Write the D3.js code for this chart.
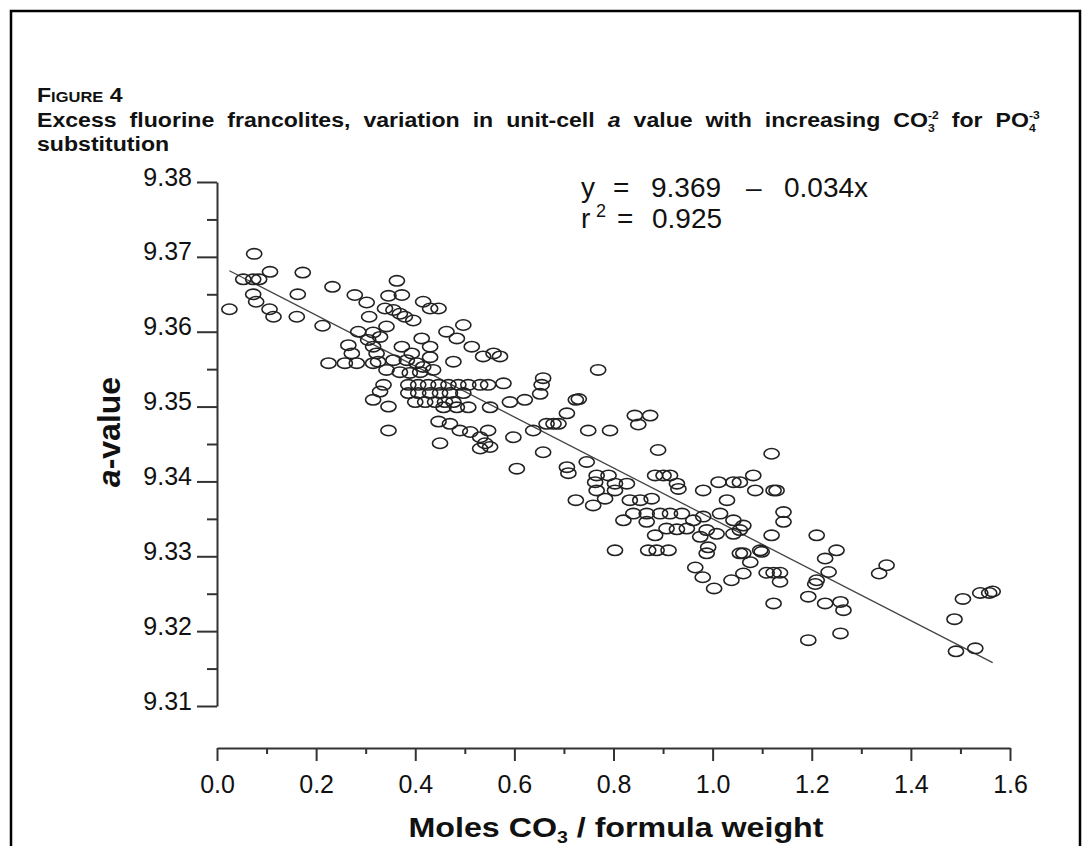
<!DOCTYPE html>
<html>
<head>
<meta charset="utf-8">
<script src="https://cdn.jsdelivr.net/npm/d3@7/dist/d3.min.js"></script>
<style>
body { margin: 0; background: #fff; }
svg text { font-family: "Liberation Sans", Arial, sans-serif; }
</style>
</head>
<body>
<script>
// ---- data (moles CO3 per formula weight vs unit-cell a) ----
var molesCO3 = [
  0.075, 0.107, 0.173, 0.053, 0.073, 0.085, 0.073, 0.079, 0.025, 0.106,
  0.114, 0.163, 0.161, 0.233, 0.213, 0.278, 0.302, 0.307, 0.363, 0.346,
  0.373, 0.339, 0.356, 0.369, 0.379, 0.396, 0.416, 0.430, 0.447, 0.463,
  0.484, 0.497, 0.285, 0.315, 0.329, 0.342, 0.305, 0.315, 0.322, 0.325,
  0.265, 0.272, 0.225, 0.258, 0.282, 0.315, 0.342, 0.373, 0.393, 0.413,
  0.430, 0.430, 0.356, 0.383, 0.403, 0.416, 0.436, 0.369, 0.389, 0.410,
  0.336, 0.329, 0.315, 0.346, 0.346,
  0.386, 0.406, 0.426, 0.447, 0.467, 0.487, 0.507, 0.531, 0.547,
  0.386, 0.406, 0.430, 0.450, 0.470, 0.497,
  0.400, 0.420, 0.440, 0.460, 0.477,
  0.457, 0.484, 0.507, 0.551,
  0.578, 0.591, 0.621, 0.655, 0.658, 0.652,
  0.447, 0.470, 0.490, 0.511, 0.531, 0.547, 0.541, 0.531, 0.551, 0.450,
  0.598, 0.638, 0.658, 0.605,
  0.514, 0.537, 0.571, 0.477, 0.558,
  0.665, 0.679, 0.689, 0.706, 0.724, 0.730, 0.769,
  0.706, 0.709, 0.746, 0.749, 0.793, 0.724, 0.759,
  0.766, 0.763, 0.766, 0.783, 0.790, 0.803, 0.803, 0.827,
  0.833, 0.854, 0.877, 0.843, 0.874, 0.850, 0.890,
  0.884, 0.901, 0.914, 0.928, 0.931,
  0.820, 0.840, 0.867, 0.867, 0.894, 0.914, 0.938, 0.907, 0.928, 0.948,
  0.884, 0.803, 0.870, 0.887, 0.911,
  0.961, 0.981, 0.988, 1.015, 1.042, 1.055, 1.042, 1.008, 0.975,
  0.991, 0.988, 1.055, 1.096,
  0.981, 1.012, 1.042, 1.029, 1.055, 1.082,
  1.086, 1.123, 1.129, 1.119, 1.143, 1.143, 1.119, 1.062,
  1.210, 1.099, 1.076, 1.062,
  1.062, 1.109, 1.123, 1.136, 1.136, 1.123,
  1.250, 1.227, 1.234, 1.210, 1.207, 1.193,
  1.227, 1.258, 1.264, 1.193, 1.258,
  1.351, 1.336, 1.505, 1.540, 1.558, 1.565,
  1.488, 1.491, 1.530,
  0.965, 0.980, 1.003, 1.038
];
var aValue = [
  9.3704, 9.3680, 9.3679, 9.3670, 9.3670, 9.3670, 9.3650, 9.3640, 9.3630, 9.3630,
  9.3620, 9.3650, 9.3620, 9.3660, 9.3608, 9.3649, 9.3639, 9.3620, 9.3668, 9.3648,
  9.3649, 9.3631, 9.3629, 9.3624, 9.3620, 9.3615, 9.3640, 9.3631, 9.3631, 9.3600,
  9.3591, 9.3609, 9.3600, 9.3599, 9.3593, 9.3607, 9.3589, 9.3580, 9.3571, 9.3560,
  9.3582, 9.3571, 9.3558, 9.3558, 9.3558, 9.3558, 9.3549, 9.3580, 9.3571, 9.3591,
  9.3580, 9.3566, 9.3562, 9.3562, 9.3558, 9.3553, 9.3549, 9.3546, 9.3545, 9.3546,
  9.3529, 9.3520, 9.3509, 9.3500, 9.3468,
  9.3529, 9.3529, 9.3529, 9.3529, 9.3529, 9.3529, 9.3529, 9.3529, 9.3529,
  9.3518, 9.3518, 9.3518, 9.3518, 9.3518, 9.3518,
  9.3506, 9.3506, 9.3506, 9.3506, 9.3506,
  9.3499, 9.3499, 9.3499, 9.3499,
  9.3531, 9.3506, 9.3509, 9.3529, 9.3538, 9.3517,
  9.3480, 9.3477, 9.3468, 9.3466, 9.3459, 9.3468, 9.3451, 9.3444, 9.3446, 9.3451,
  9.3459, 9.3468, 9.3439, 9.3417,
  9.3580, 9.3567, 9.3567, 9.3560, 9.3571,
  9.3477, 9.3477, 9.3477, 9.3491, 9.3509, 9.3510, 9.3549,
  9.3419, 9.3411, 9.3426, 9.3468, 9.3468, 9.3375, 9.3368,
  9.3408, 9.3399, 9.3388, 9.3377, 9.3408, 9.3397, 9.3388, 9.3397,
  9.3375, 9.3375, 9.3377, 9.3488, 9.3488, 9.3476, 9.3442,
  9.3408, 9.3408, 9.3408, 9.3397, 9.3390,
  9.3348, 9.3357, 9.3357, 9.3346, 9.3357, 9.3357, 9.3357, 9.3337, 9.3336, 9.3337,
  9.3328, 9.3308, 9.3308, 9.3308, 9.3308,
  9.3348, 9.3353, 9.3335, 9.3357, 9.3348, 9.3335, 9.3330, 9.3330, 9.3326,
  9.3312, 9.3304, 9.3304, 9.3308,
  9.3388, 9.3399, 9.3399, 9.3375, 9.3399, 9.3408,
  9.3388, 9.3388, 9.3388, 9.3437, 9.3359, 9.3346, 9.3328, 9.3341,
  9.3328, 9.3306, 9.3292, 9.3304,
  9.3277, 9.3278, 9.3278, 9.3278, 9.3266, 9.3237,
  9.3308, 9.3297, 9.3279, 9.3268, 9.3263, 9.3246,
  9.3237, 9.3239, 9.3228, 9.3188, 9.3197,
  9.3288, 9.3277, 9.3243, 9.3251, 9.3251, 9.3253,
  9.3216, 9.3173, 9.3177,
  9.3285, 9.3272, 9.3257, 9.3268
];

var xTicks = [0, 0.2, 0.4, 0.6, 0.8, 1.0, 1.2, 1.4, 1.6];
var xMinorTicks = [0.1, 0.3, 0.5, 0.7, 0.9, 1.1, 1.3, 1.5];
var yTicks = [9.31, 9.32, 9.33, 9.34, 9.35, 9.36, 9.37, 9.38];
var yMinorTicks = [9.315, 9.325, 9.335, 9.345, 9.355, 9.365, 9.375];

// fitted line y = 9.369 - 0.034x, drawn over the data range
var fitIntercept = 9.369, fitSlope = -0.034;
var fitRange = [0.025, 1.565];

var W = 1091, H = 846;
var ink = "#222";

var svg = d3.select("body").append("svg")
    .attr("width", W)
    .attr("height", H);

// frame around the figure
svg.append("rect")
    .attr("x", 11).attr("y", 11)
    .attr("width", W - 22).attr("height", H)
    .attr("fill", "none")
    .attr("stroke", "#000")
    .attr("stroke-width", 2.5);

// ====== TITLE ======
var titleSize = 21, stretch = 1.1;
var t1 = svg.append("text")
    .attr("transform", "translate(37,102) scale(" + stretch + ",1)")
    .style("font-weight", "bold").style("font-size", titleSize + "px").attr("fill", "#111");
t1.append("tspan").text("F");
t1.append("tspan").style("font-size", "15px").text("IGURE");
t1.append("tspan").text(" 4");

var t2 = svg.append("text")
    .attr("transform", "translate(37,127) scale(" + stretch + ",1)")
    .style("font-weight", "bold").style("font-size", titleSize + "px").attr("fill", "#111");
t2.append("tspan").text("Excess fluorine francolites, variation in unit-cell ");
t2.append("tspan").style("font-style", "italic").text("a");
t2.append("tspan").text(" value with increasing CO");
t2.append("tspan").style("font-size", "11px").attr("dy", 5).text("3");
t2.append("tspan").style("font-size", "11px").attr("dx", -6).attr("dy", -13).text("-2");
t2.append("tspan").attr("dy", 8).text(" for PO");
t2.append("tspan").style("font-size", "11px").attr("dy", 5).text("4");
t2.append("tspan").style("font-size", "11px").attr("dx", -6).attr("dy", -13).text("-3");

// justify line 2 to the right margin
var t2len = t2.node().getComputedTextLength();
var spaces = t2.text().split(" ").length - 1;
var gap = Math.max(0, ((1053 - 37) / stretch - t2len) / spaces);
t2.style("word-spacing", gap + "px");

svg.append("text")
    .attr("transform", "translate(37,151) scale(" + stretch + ",1)")
    .style("font-weight", "bold").style("font-size", titleSize + "px").attr("fill", "#111")
    .text("substitution");

// ====== SCALES ======
var x = d3.scaleLinear().domain([0, 1.6]).range([217, 1010]);
var y = d3.scaleLinear().domain([9.31, 9.38]).range([706, 182]);

// ====== Y AXIS ======
var gy = svg.append("g")
    .attr("transform", "translate(217,0)")
    .call(d3.axisLeft(y).tickValues(yTicks).tickSize(20).tickSizeOuter(0)
        .tickPadding(5).tickFormat(d3.format(".2f")));
svg.append("g")
    .attr("transform", "translate(217,0)")
    .call(d3.axisLeft(y).tickValues(yMinorTicks).tickSize(10).tickFormat(""))
    .call(function(g) { g.select(".domain").remove(); });

gy.selectAll("text")
    .attr("dy", "0.12em")
    .style("font-size", "25px")
    .attr("fill", "#111");

// ====== X AXIS ======
var gx = svg.append("g")
    .attr("transform", "translate(0,748)")
    .call(d3.axisBottom(x).tickValues(xTicks).tickSize(13).tickSizeOuter(0)
        .tickFormat(d3.format(".1f")));
svg.append("g")
    .attr("transform", "translate(0,748)")
    .call(d3.axisBottom(x).tickValues(xMinorTicks).tickSize(6).tickFormat(""))
    .call(function(g) { g.select(".domain").remove(); });

gx.selectAll("text")
    .attr("y", 45).attr("dy", 0)
    .style("font-size", "25px")
    .attr("fill", "#111");

svg.selectAll(".domain, .tick line")
    .attr("stroke", "#333")
    .attr("stroke-width", 2);

// axis titles
var yl = svg.append("text")
    .attr("transform", "translate(120,432) rotate(-90)")
    .attr("text-anchor", "middle")
    .style("font-weight", "bold").style("font-size", "32px").attr("fill", "#111");
yl.append("tspan").style("font-style", "italic").text("a");
yl.append("tspan").text("-value");

var xl = svg.append("text")
    .attr("transform", "translate(616,837) scale(1.15,1)")
    .attr("text-anchor", "middle")
    .style("font-weight", "bold").style("font-size", "28px").attr("fill", "#111");
xl.append("tspan").text("Moles CO");
xl.append("tspan").style("font-size", "17px").attr("dy", 6).text("3");
xl.append("tspan").attr("dy", -6).text(" / formula weight");

// ====== FIT LINE ======
svg.append("line")
    .attr("x1", x(fitRange[0]))
    .attr("y1", y(fitIntercept + fitSlope * fitRange[0]))
    .attr("x2", x(fitRange[1]))
    .attr("y2", y(fitIntercept + fitSlope * fitRange[1]))
    .attr("stroke", "#444")
    .attr("stroke-width", 1.3);

// ====== POINTS ======
var points = molesCO3.map(function(d, i) { return [d, aValue[i]]; });

svg.selectAll(".pt")
    .data(points)
    .enter().append("ellipse")
        .attr("class", "pt")
        .attr("cx", function(d) { return x(d[0]); })
        .attr("cy", function(d) { return y(d[1]); })
        .attr("rx", 7.6)
        .attr("ry", 5.2)
        .attr("fill", "none")
        .attr("stroke", ink)
        .attr("stroke-width", 1.6);

// ====== EQUATION ======
var eq = svg.append("g").style("font-size", "28px").attr("fill", "#111");
eq.append("text").attr("x", 581).attr("y", 197).text("y");
eq.append("text").attr("x", 613).attr("y", 197).text("=");
eq.append("text").attr("x", 651).attr("y", 197).text("9.369");
eq.append("text").attr("x", 746).attr("y", 197).text("\u2013");
eq.append("text").attr("x", 784).attr("y", 197).text("0.034x");
eq.append("text").attr("x", 581).attr("y", 228).text("r");
eq.append("text").attr("x", 596).attr("y", 217).style("font-size", "18px").text("2");
eq.append("text").attr("x", 617).attr("y", 228).text("=");
eq.append("text").attr("x", 652).attr("y", 228).text("0.925");
</script>
</body>
</html>
